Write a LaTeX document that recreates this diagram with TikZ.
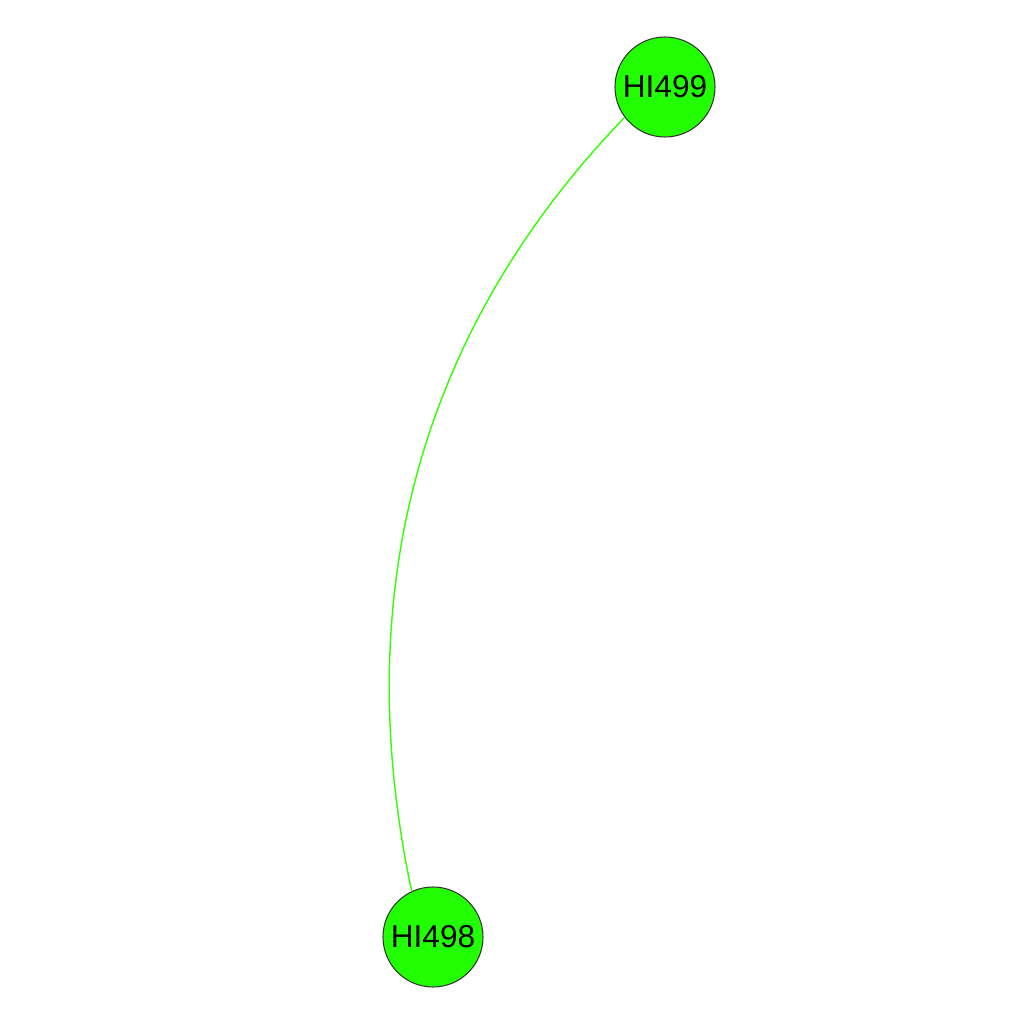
\documentclass[tikz,border=0pt]{standalone}
\usepackage{fontspec}
\setmainfont{Liberation Sans}
\usetikzlibrary{
	arrows.meta,
	positioning
}
\definecolor{nodeGreen}{HTML}{22FF00}
\definecolor{edgeGreen}{HTML}{33FF00}
\tikzset{every path/.append style={line width=0.5pt}}
\tikzset{
	gene/.style={circle,draw=black!80,line width=0.3pt,fill=nodeGreen,minimum size=1cm,inner sep=0pt,font=\fontsize{9}{10}\selectfont},
	link/.style={draw=edgeGreen,line width=0.4pt}
}
\newcommand{\tikzGene}[3][]{\node (#3) at #2 [gene,#1]{#3};}

\begin{document}
\begin{tikzpicture}
	\useasboundingbox (0,0) rectangle (10.24,10.24);
	
	\tikzGene{(6.65,9.37)}{HI499};
	\tikzGene{(4.33,0.87)}{HI498};
	
	\draw[link] (HI499.217) to[out=226,in=102,distance=3.0cm] (HI498.115);
\end{tikzpicture}
\end{document}
